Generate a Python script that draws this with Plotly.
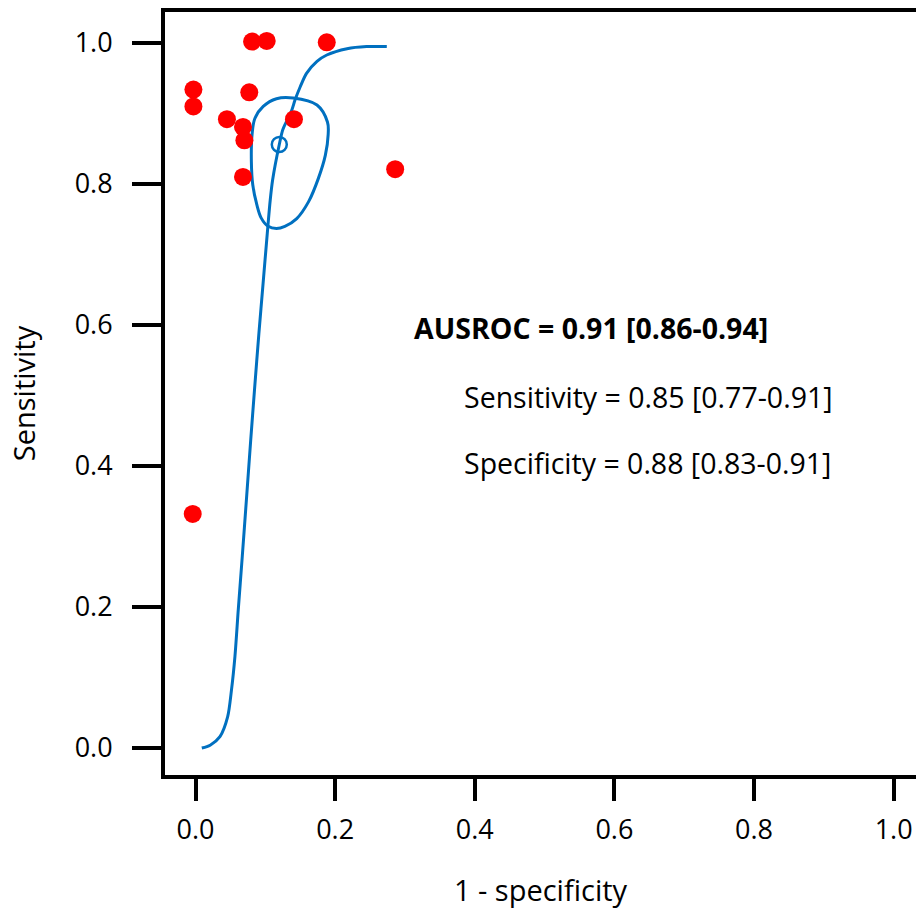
import plotly.graph_objects as go

# Study points (1 - specificity, sensitivity)
study_fpr = [0.081, 0.102, 0.188, -0.003, -0.003, 0.077, 0.045, 0.068, 0.070, 0.141, 0.068, 0.286, -0.004]
study_sens = [1.002, 1.003, 1.001, 0.934, 0.910, 0.930, 0.892, 0.881, 0.862, 0.892, 0.810, 0.821, 0.332]

# Summary point
summary_fpr = [0.120]
summary_sens = [0.856]

# SROC curve
sroc_fpr = [0.009, 0.021, 0.035, 0.046, 0.0515, 0.0565, 0.0613, 0.0670, 0.0729, 0.0791, 0.0845,
            0.0908, 0.0968, 0.1028, 0.1070, 0.1105, 0.120, 0.125, 0.132, 0.138, 0.1425, 0.150,
            0.159, 0.174, 0.188, 0.217, 0.245, 0.274]
sroc_sens = [0.000, 0.004, 0.016, 0.044, 0.082, 0.130, 0.197, 0.272, 0.352, 0.437, 0.508,
             0.588, 0.659, 0.730, 0.777, 0.806, 0.856, 0.877, 0.892, 0.905, 0.919, 0.938,
             0.957, 0.974, 0.983, 0.992, 0.995, 0.995]

# 95% confidence region
conf_fpr = [0.140, 0.174, 0.189, 0.190, 0.186, 0.176, 0.162, 0.145, 0.128, 0.116, 0.104,
            0.094, 0.088, 0.082, 0.080, 0.081, 0.085, 0.097, 0.116, 0.140]
conf_sens = [0.922, 0.912, 0.888, 0.870, 0.841, 0.808, 0.775, 0.751, 0.740, 0.737, 0.740,
             0.752, 0.770, 0.799, 0.832, 0.870, 0.893, 0.910, 0.921, 0.922]

tick_vals = [0.0, 0.2, 0.4, 0.6, 0.8, 1.0]
tick_text = ["0.0", "0.2", "0.4", "0.6", "0.8", "1.0"]

stat_lines = ["<b>AUSROC = 0.91 [0.86-0.94]</b>",
              "Sensitivity = 0.85 [0.77-0.91]",
              "Specificity = 0.88 [0.83-0.91]"]

BLUE = "#0070C0"
FONT = "Open Sans"

fig = go.Figure()
fig.add_trace(go.Scatter(x=sroc_fpr, y=sroc_sens, mode="lines",
                         line=dict(color=BLUE, width=3, shape="spline", smoothing=0.8), hoverinfo="skip"))
fig.add_trace(go.Scatter(x=conf_fpr, y=conf_sens, mode="lines",
                         line=dict(color=BLUE, width=3, shape="spline", smoothing=1.0), hoverinfo="skip"))
fig.add_trace(go.Scatter(x=study_fpr, y=study_sens, mode="markers",
                         marker=dict(color="#FF0000", size=18, line=dict(width=0))))
fig.add_trace(go.Scatter(x=summary_fpr, y=summary_sens, mode="markers",
                         marker=dict(symbol="circle-open", color=BLUE, size=15, line=dict(width=2.5, color=BLUE))))

ann_x = [0.310, 0.381, 0.381]
ann_y = [0.596, 0.498, 0.404]
sizes = [28.5, 28.5, 28.5]
for t, ax_, ay_, s in zip(stat_lines, ann_x, ann_y, sizes):
    fig.add_annotation(x=ax_, y=ay_, xref="x", yref="y", text=t, showarrow=False,
                       xanchor="left", yanchor="middle",
                       font=dict(family=FONT, size=s, color="black"))

axis_common = dict(
    showline=True, linecolor="black", linewidth=4,
    ticks="outside", tickwidth=4, tickcolor="black",
    tickvals=tick_vals, ticktext=tick_text,
    showgrid=False, zeroline=False,
    tickfont=dict(family=FONT, size=27, color="black"),
)

fig.update_xaxes(**axis_common, range=[-0.0437, 1.032], mirror=True, ticklen=22, ticklabelstandoff=6,
                 title=dict(text="1 - specificity", font=dict(family=FONT, size=29, color="black"), standoff=35))
fig.update_yaxes(**axis_common, range=[-0.0383, 1.044], ticklen=29, ticklabelstandoff=14,
                 title=dict(text="Sensitivity", font=dict(family=FONT, size=29, color="black"), standoff=31))

fig.update_layout(
    width=916, height=911,
    margin=dict(l=165, r=0, t=12, b=136),
    paper_bgcolor="white", plot_bgcolor="white",
    showlegend=False,
)

fig.write_html("out.html")
